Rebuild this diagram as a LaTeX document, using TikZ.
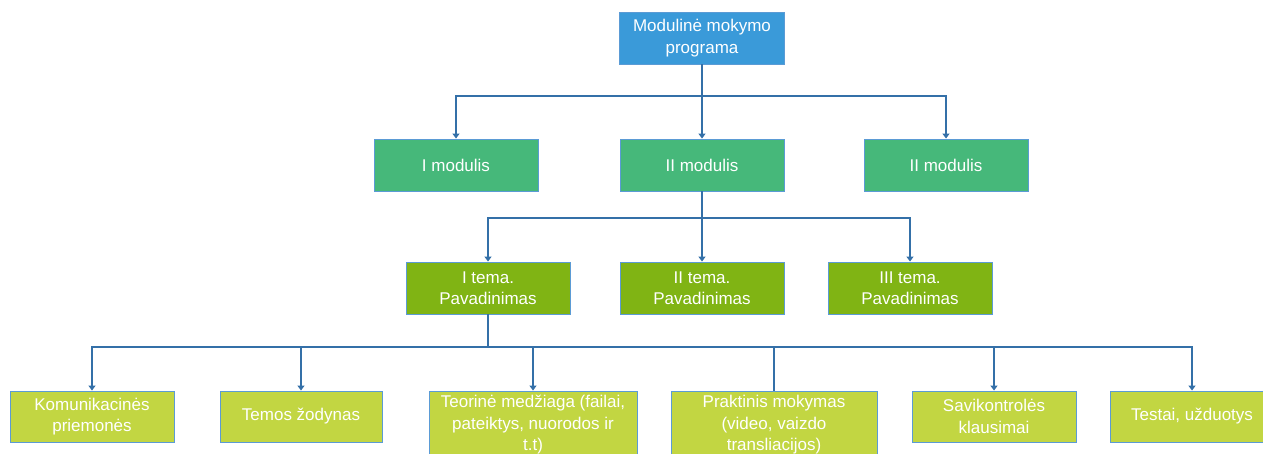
\documentclass[tikz,border=0pt]{standalone}
\usepackage{fontspec}
\setmainfont{Liberation Sans}
\usetikzlibrary{arrows.meta}
\definecolor{topblue}{HTML}{3A9AD9}
\definecolor{modgreen}{HTML}{46B87A}
\definecolor{temagreen}{HTML}{80B414}
\definecolor{leafgreen}{HTML}{C2D642}
\definecolor{edgeblue}{HTML}{5B9BD5}
\definecolor{linkblue}{HTML}{3470A8}
\tikzset{
  box/.style={draw=edgeblue, line width=0.9pt, text=white, align=center,
    inner sep=2pt, font=\fontsize{17}{21.5}\selectfont},
  topbox/.style={box, fill=topblue, minimum width=165pt, minimum height=52pt},
  modbox/.style={box, fill=modgreen, minimum width=164pt, minimum height=52pt},
  temabox/.style={box, fill=temagreen, minimum width=164pt, minimum height=52pt},
  leafbox/.style={box, fill=leafgreen, minimum height=51pt},
  link/.style={draw=linkblue, line width=1.4pt},
  arr/.style={link, -{Triangle[width=7pt,length=5pt]}},
}
\begin{document}
\begin{tikzpicture}[x=1pt,y=1pt]
\useasboundingbox (0,0) rectangle (1263,-453);
\clip (0,0) rectangle (1263,-453);

% bus levels
\coordinate (bus1) at (0,-96);
\coordinate (bus2) at (0,-218);
\coordinate (bus3) at (0,-347);

% root
\node[topbox] (root) at (702,-38) {Modulinė mokymo\\programa};

% modules
\node[modbox] (m1) at (456,-165) {I modulis};
\node[modbox] (m2) at (702,-165) {II modulis};
\node[modbox] (m3) at (946,-165) {II modulis};

% topics
\node[temabox] (t1) at (488,-288) {I tema.\\Pavadinimas};
\node[temabox] (t2) at (702,-288) {II tema.\\Pavadinimas};
\node[temabox] (t3) at (910,-288) {III tema.\\Pavadinimas};

% topic contents
\node[leafbox, minimum width=164pt] (l1) at (92,-416.5) {Komunikacinės\\priemonės};
\node[leafbox, minimum width=162pt] (l2) at (301,-416.5) {Temos žodynas};
\node[leafbox, minimum width=208pt, minimum height=68pt] (l3) at (533,-425) {Teorinė medžiaga (failai,\\pateiktys, nuorodos ir\\t.t)};
\node[leafbox, minimum width=206pt, minimum height=68pt] (l4) at (774,-425) {Praktinis mokymas\\(video, vaizdo\\transliacijos)};
\node[leafbox, minimum width=164pt] (l5) at (994,-416.5) {Savikontrolės\\klausimai};
\node[leafbox, minimum width=164pt] (l6) at (1192,-416.5) {Testai, užduotys};

% root to modules
\draw[link] (root.south) -- (root.south |- bus1);
\draw[arr] (root.south |- bus1) -| (m1.north);
\draw[arr] (root.south |- bus1) -| (m3.north);
\draw[arr] (root.south |- bus1) -- (m2.north);

% module II to topics
\draw[link] (m2.south) -- (m2.south |- bus2);
\draw[arr] (m2.south |- bus2) -| (t1.north);
\draw[arr] (m2.south |- bus2) -| (t3.north);
\draw[arr] (m2.south |- bus2) -- (t2.north);

% topic I to contents
\draw[link] (t1.south) -- (t1.south |- bus3);
\draw[arr] (t1.south |- bus3) -| (l1.north);
\draw[arr] (t1.south |- bus3) -| (l2.north);
\draw[arr] (t1.south |- bus3) -| (l3.north);
\draw[link] (t1.south |- bus3) -| (l4.north);
\draw[arr] (t1.south |- bus3) -| (l5.north);
\draw[arr] (t1.south |- bus3) -| (l6.north);
\end{tikzpicture}
\end{document}
